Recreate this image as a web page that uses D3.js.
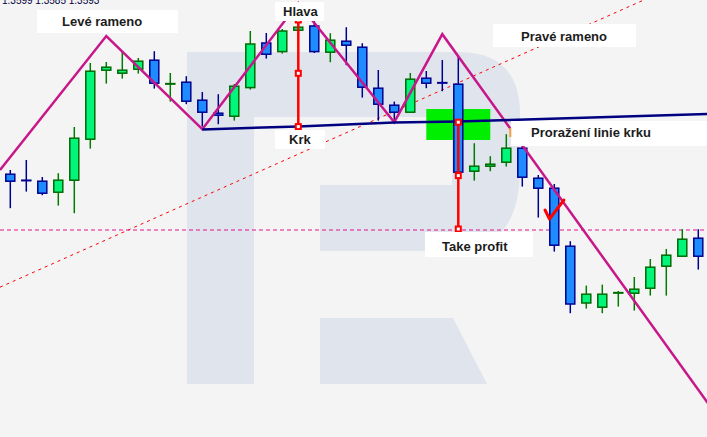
<!DOCTYPE html>
<html><head><meta charset="utf-8">
<script src="https://cdn.jsdelivr.net/npm/d3@7"></script>
<style>html,body{margin:0;padding:0;background:#f4f4f4;overflow:hidden}svg{display:block}</style>
</head><body><svg id="c" width="707" height="437"></svg>
<script>
// ---- candle data (index 0..43) ----
const open  = [1.36129,1.36099,1.36094,1.36039,1.36099,1.36304,1.36649,1.36634,1.36654,1.36699,
               1.36581,1.36589,1.36499,1.36434,1.36419,1.36562,1.36785,1.36742,1.36849,1.36870,
               1.36739,1.36794,1.36764,1.36559,1.36474,1.36439,1.36609,1.36587,1.36579,1.36144,
               1.36169,1.36189,1.36259,1.36109,1.36059,1.35769,1.35485,1.35464,1.35536,1.35534,
               1.35559,1.35669,1.35719,1.35809];
const high  = [1.36150,1.36200,1.36115,1.36134,1.36365,1.36685,1.36690,1.36744,1.36710,1.36744,
               1.36635,1.36619,1.36540,1.36529,1.36580,1.36845,1.36835,1.36855,1.36890,1.36900,
               1.36834,1.36864,1.36784,1.36650,1.36492,1.36635,1.36645,1.36700,1.36715,1.36284,
               1.36219,1.36329,1.36270,1.36125,1.36080,1.35794,1.35572,1.35577,1.35545,1.35615,
               1.35705,1.35755,1.35854,1.35854];
const low   = [1.35959,1.36042,1.36024,1.35972,1.35934,1.36257,1.36582,1.36607,1.36632,1.36557,
               1.36492,1.36479,1.36367,1.36379,1.36397,1.36552,1.36707,1.36732,1.36840,1.36735,
               1.36689,1.36674,1.36512,1.36397,1.36400,1.36438,1.36559,1.36544,1.36135,1.36097,
               1.36144,1.36167,1.36067,1.35912,1.35742,1.35434,1.35457,1.35434,1.35467,1.35447,
               1.35522,1.35522,1.35718,1.35652];
const close = [1.36094,1.36098,1.36034,1.36099,1.36309,1.36644,1.36664,1.36649,1.36694,1.36584,
               1.36582,1.36494,1.36439,1.36424,1.36569,1.36780,1.36729,1.36845,1.36864,1.36742,
               1.36799,1.36774,1.36564,1.36479,1.36439,1.36604,1.36584,1.36586,1.36139,1.36169,
               1.36179,1.36259,1.36114,1.36059,1.35774,1.35480,1.35529,1.35529,1.35537,1.35554,
               1.35664,1.35724,1.35804,1.35719];

// ---- pattern annotations (index, price) ----
const zigzag    = [[-0.644,1.36150],[6,1.36820],[12,1.36354],[18,1.36985],[24,1.36389],[27,1.36829],[44,1.34940]];
const neckline  = [[12,1.36353],[18,1.36368],[24,1.36388],[28,1.36392],[31.2,1.36400],[43.6,1.36430]];
const trendline = [[-0.644,1.35564],[43.6,1.37143]];
const takeProfit = 1.35850;
const measures  = [{i:18, top:1.36900, bottom:1.36367}, {i:28, top:1.36389, bottom:1.35855}];
const zone      = {i0:26, i1:30, p0:1.36455, p1:1.36300};
const check     = [[33.42,1.35950],[33.70,1.35905],[34.60,1.36000]];
const labelText = ["Levé rameno","Hlava","Krk","Pravé rameno","Proražení linie krku","Take profit"];
const ohlcText  = "1.3599 1.3585 1.3593";

const W = 707, H = 437;
const svg = d3.select("#c");
const x = d3.scaleLinear().domain([0, 43]).range([10.3, 698.3]);
const y = d3.scaleLinear().domain([1.34815, 1.37000]).range([H, 0]);

svg.append("rect").attr("width", W).attr("height", H).attr("fill", "#f4f4f4");

// watermark logo
const wm = svg.append("g").attr("fill", "#e0e5ed");
wm.append("rect").attr("x", 187).attr("y", 52).attr("width", 67).attr("height", 332);
wm.append("path").attr("d", "M254,52 H458 Q520,52 520,114 V168 Q520,251 452,251 H320 V185 H452 V117 H254 Z");
wm.append("path").attr("d", "M320,318 H453 L487,384 H320 Z");

// green zone
svg.append("rect")
  .attr("x", x(zone.i0)).attr("width", x(zone.i1) - x(zone.i0))
  .attr("y", y(zone.p0)).attr("height", y(zone.p1) - y(zone.p0))
  .attr("fill", "#00ee00");

const line = d3.line().x(d => x(d[0])).y(d => y(d[1]));

// trend line (red dotted)
svg.append("path").attr("d", line(trendline)).attr("fill", "none")
  .attr("stroke", "#ff0000").attr("stroke-width", 1).attr("stroke-dasharray", "3,4");

// take profit level
svg.append("line").attr("x1", 0).attr("x2", W).attr("y1", y(takeProfit)).attr("y2", y(takeProfit))
  .attr("stroke", "#e0158c").attr("stroke-width", 1.2).attr("stroke-dasharray", "4,3");

// candles
const data = open.map((o, i) => ({i, o, h: high[i], l: low[i], c: close[i]}));
const up = d => d.c >= d.o;
const cg = svg.append("g");
cg.selectAll("line").data(data).join("line")
  .attr("x1", d => x(d.i)).attr("x2", d => x(d.i))
  .attr("y1", d => y(d.h)).attr("y2", d => y(d.l))
  .attr("stroke", d => up(d) ? "#007a00" : "#000090").attr("stroke-width", 1.5);
cg.selectAll("rect").data(data).join("rect")
  .attr("x", d => x(d.i) - 4.5).attr("width", 9)
  .attr("y", d => y(Math.max(d.o, d.c)))
  .attr("height", d => Math.max(0.5, Math.abs(y(d.o) - y(d.c))))
  .attr("fill", d => up(d) ? "#00f57a" : "#1e8cff")
  .attr("stroke", d => up(d) ? "#006a00" : "#000090").attr("stroke-width", 1.5);

// zigzag
svg.append("path").attr("d", line(zigzag)).attr("fill", "none")
  .attr("stroke", "#c8178a").attr("stroke-width", 2.5).attr("stroke-linejoin", "miter");

// neckline
svg.append("path").attr("d", line(neckline)).attr("fill", "none")
  .attr("stroke", "#000080").attr("stroke-width", 2.5);

// measurement lines
measures.forEach(m => {
  const g = svg.append("g");
  g.append("line").attr("x1", x(m.i)).attr("x2", x(m.i)).attr("y1", y(m.top)).attr("y2", y(m.bottom))
    .attr("stroke", "#ff0000").attr("stroke-width", 2.5);
  [m.top, (m.top + m.bottom) / 2, m.bottom].forEach(p => {
    g.append("rect").attr("x", x(m.i) - 2.5).attr("y", y(p) - 2.5).attr("width", 5).attr("height", 5)
      .attr("fill", "#ffffff").attr("stroke", "#ff0000").attr("stroke-width", 2);
  });
});

// labels
const boxes = [
  {x0: 37,  y0: 10,  x1: 178, y1: 33,  tx: 62,  ty: 26},
  {x0: 275, y0: 2,   x1: 324, y1: 21,  tx: 283, ty: 16},
  {x0: 275, y0: 130, x1: 325, y1: 149, tx: 289, ty: 144},
  {x0: 493, y0: 24,  x1: 636, y1: 47,  tx: 521, ty: 41},
  {x0: 511, y0: 121, x1: 707, y1: 146, tx: 531, ty: 137},
  {x0: 425, y0: 232, x1: 533, y1: 257, tx: 442, ty: 251}
];
const lg = svg.append("g");
boxes.forEach((b, k) => {
  lg.append("rect").attr("x", b.x0).attr("y", b.y0).attr("width", b.x1 - b.x0).attr("height", b.y1 - b.y0)
    .attr("fill", "#ffffff");
  lg.append("text").attr("x", b.tx).attr("y", b.ty).text(labelText[k])
    .attr("font-family", "Liberation Sans, Arial, sans-serif").attr("font-size", 13)
    .attr("font-weight", "bold").attr("fill", "#1c1c1c");
});

// small orange marker at breakout
svg.append("rect").attr("x", x(31.25) - 1).attr("y", y(1.36360)).attr("width", 2).attr("height", 9).attr("fill", "#f0a040");

// checkmark
svg.append("path").attr("d", line(check)).attr("fill", "none")
  .attr("stroke", "#ff0000").attr("stroke-width", 3).attr("stroke-linecap", "round").attr("stroke-linejoin", "round");

// OHLC text at top
svg.append("text").attr("x", 2).attr("y", 4).text(ohlcText)
  .attr("font-family", "Liberation Sans, Arial, sans-serif").attr("font-size", 10).attr("fill", "#000040");
</script></body></html>
